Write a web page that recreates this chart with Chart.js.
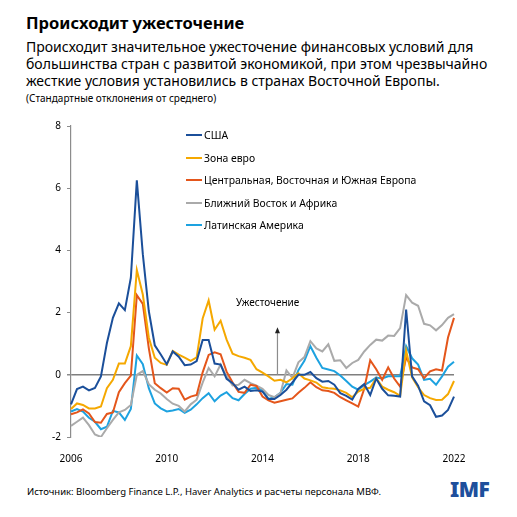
<!DOCTYPE html>
<html lang="ru">
<head>
<meta charset="utf-8">
<script src="https://cdn.jsdelivr.net/npm/chart.js@4.4.1/dist/chart.umd.min.js"></script>
<style>
  html, body { margin: 0; padding: 0; background: #fff; }
  body { width: 517px; height: 517px; position: relative; overflow: hidden; font-family: "Noto Sans", sans-serif; color: #000; }
  .title { position: absolute; left: 26px; top: 11px; font-size: 16.5px; font-weight: bold; }
  .subtitle { position: absolute; left: 26px; top: 38px; font-size: 14px; line-height: 17px; width: 490px; }
  .units { position: absolute; left: 26px; top: 91px; font-size: 10px; }
  #wrap { position: absolute; left: 0; top: 110px; width: 517px; height: 360px; }
  .legend { position: absolute; left: 186px; top: 124px; font-size: 10.4px; }
  .legend div { height: 22.5px; display: flex; align-items: center; }
  .legend .sw { display: inline-block; width: 16px; height: 2px; margin-right: 2px; }
  .note { position: absolute; left: 236px; top: 295px; font-size: 10px; }
  .source { position: absolute; left: 27px; top: 485px; font-size: 9.5px; }
  .logo { position: absolute; left: 450px; top: 475px; font-size: 21px; font-weight: 900; color: #1e4f9c; letter-spacing: -0.5px; }
</style>
</head>
<body>
<div class="title">Происходит ужесточение</div>
<div class="subtitle">Происходит значительное ужесточение финансовых условий для большинства стран с развитой экономикой, при этом чрезвычайно жесткие условия установились в странах Восточной Европы.</div>
<div class="units">(Стандартные отклонения от среднего)</div>
<div id="wrap"><canvas id="chart" width="517" height="360"></canvas></div>
<div class="legend" id="legend"></div>
<div class="note">Ужесточение</div>
<div class="source">Источник: Bloomberg Finance L.P., Haver Analytics и расчеты персонала МВФ.</div>
<div class="logo">IMF</div>
<script>
// кварталы 2006Q1 - 2022Q1
const quarters = [
  '2006Q1','2006Q2','2006Q3','2006Q4','2007Q1','2007Q2','2007Q3','2007Q4',
  '2008Q1','2008Q2','2008Q3','2008Q4','2009Q1','2009Q2','2009Q3','2009Q4',
  '2010Q1','2010Q2','2010Q3','2010Q4','2011Q1','2011Q2','2011Q3','2011Q4',
  '2012Q1','2012Q2','2012Q3','2012Q4','2013Q1','2013Q2','2013Q3','2013Q4',
  '2014Q1','2014Q2','2014Q3','2014Q4','2015Q1','2015Q2','2015Q3','2015Q4',
  '2016Q1','2016Q2','2016Q3','2016Q4','2017Q1','2017Q2','2017Q3','2017Q4',
  '2018Q1','2018Q2','2018Q3','2018Q4','2019Q1','2019Q2','2019Q3','2019Q4',
  '2020Q1','2020Q2','2020Q3','2020Q4','2021Q1','2021Q2','2021Q3','2021Q4',
  '2022Q1'
];
const tickYears = ['2006', '2010', '2014', '2018', '2022'];

const seriesNames = ['США', 'Зона евро', 'Центральная, Восточная и Южная Европа', 'Ближний Восток и Африка', 'Латинская Америка'];
const seriesColors = ['#1b4f9a', '#f5a800', '#e4561b', '#aaaaaa', '#1da2e0'];

const usa = [
  -0.95, -0.46, -0.38, -0.50, -0.42, -0.05, 1.02, 1.83, 2.30, 2.08, 3.12, 6.25, 3.88, 2.05, 0.95, 0.65,
  0.34, 0.75, 0.58, 0.31, 0.33, 0.44, 1.12, 1.12, 0.36, 0.33, -0.13, -0.27, -0.48, -0.38, -0.52, -0.50,
  -0.54, -0.78, -0.78, -0.65, -0.48, -0.24, 0.00, 0.00, 0.09, -0.11, -0.22, -0.20, -0.32, -0.59, -0.68, -0.80,
  -0.45, -0.30, -0.65, -0.12, -0.45, -0.66, -0.67, -0.70, 2.10, -0.05, -0.35, -0.85, -0.98, -1.35, -1.31, -1.13,
  -0.70
];
const euroArea = [
  -1.10, -0.92, -0.97, -1.08, -1.08, -1.02, -0.43, -0.16, 0.36, 0.36, 0.92, 3.37, 2.58, 1.20, 0.55, 0.38,
  0.32, 0.77, 0.65, 0.55, 0.45, 0.56, 1.81, 2.39, 1.45, 1.74, 1.13, 0.68, 0.60, 0.55, 0.48, 0.18,
  0.07, -0.05, -0.19, -0.16, -0.24, -0.11, 0.05, -0.12, -0.18, -0.25, -0.40, -0.43, -0.45, -0.50, -0.58, -0.72,
  -0.54, -0.45, -0.42, -0.11, -0.38, -0.48, -0.56, -0.68, 0.78, -0.08, -0.40, -0.65, -0.75, -0.81, -0.80, -0.62,
  -0.20
];
const cesee = [
  -1.27, -1.21, -1.11, -1.24, -1.52, -1.54, -1.26, -1.21, -0.56, -0.27, -0.03, 2.56, 2.28, 0.86, -0.27, -0.43,
  -0.57, -0.43, -0.45, -0.80, -0.70, -0.65, 0.08, 0.64, 0.72, 0.66, 0.10, -0.25, -0.55, -0.58, -0.32, -0.36,
  -0.70, -0.82, -0.90, -0.85, -0.80, -0.76, -0.58, -0.42, -0.24, -0.40, -0.50, -0.52, -0.58, -0.72, -0.82, -0.92,
  -1.02, -0.45, 0.47, 0.18, -0.16, 0.24, -0.12, -0.38, 0.56, 0.24, 0.18, -0.11, 0.11, 0.18, 0.14, 1.20,
  1.83
];
const mena = [
  -1.64, -1.51, -1.38, -1.62, -1.92, -2.00, -1.72, -1.45, -1.21, -1.13, -0.97, 0.00, 0.12, -0.30, -0.48, -0.60,
  -0.78, -0.93, -1.00, -1.18, -0.95, -0.80, -0.25, 0.22, -0.05, 0.33, -0.05, -0.34, -0.32, -0.16, -0.27, -0.35,
  -0.45, -0.65, -0.72, -0.59, 0.14, -0.10, 0.40, 0.57, 1.08, 0.85, 0.75, 0.98, 0.45, 0.47, 0.22, 0.38,
  0.48, 0.75, 0.96, 1.13, 1.10, 1.26, 1.25, 1.50, 2.56, 2.32, 2.22, 1.64, 1.59, 1.43, 1.60, 1.83,
  1.95
];
const latAm = [
  -1.18, -1.10, -1.18, -1.38, -1.51, -1.75, -1.67, -1.16, -1.21, -1.45, -1.10, 0.62, 0.34, -0.43, -0.92, -1.08,
  -1.18, -1.15, -1.10, -1.22, -1.12, -0.95, -0.75, -0.59, -0.85, -0.67, -0.56, -0.75, -0.82, -0.62, -0.45, -0.42,
  -0.50, -0.78, -0.72, -0.58, -0.30, -0.32, 0.15, 0.45, 0.92, 0.55, 0.22, 0.17, 0.12, -0.02, -0.20, -0.38,
  -0.48, -0.33, -0.22, -0.09, -0.12, -0.05, -0.05, -0.05, 0.92, 0.53, 0.33, -0.16, -0.13, -0.32, -0.05, 0.26,
  0.42
];
const seriesValues = [usa, euroArea, cesee, mena, latAm];

// стрелка "Ужесточение": позиция по оси X (квартал) и от/до по оси Y
const arrowQuarter = 34.5;
const arrowFrom = 0;
const arrowTo = 1.5;

// Легенда в HTML
const legendBox = document.getElementById('legend');
seriesNames.forEach((name, i) => {
  const row = document.createElement('div');
  row.innerHTML = '<span class="sw" style="background:' + seriesColors[i] + '"></span><span>' + name + '</span>';
  legendBox.appendChild(row);
});

const arrowPlugin = {
  id: 'tighteningArrow',
  afterDatasetsDraw(chart) {
    const { ctx, scales } = chart;
    const x = scales.x.getPixelForValue(arrowQuarter);
    const y0 = scales.y.getPixelForValue(arrowFrom);
    const y1 = scales.y.getPixelForValue(arrowTo);
    ctx.save();
    ctx.strokeStyle = '#8c8c8c';
    ctx.lineWidth = 1.2;
    ctx.beginPath();
    ctx.moveTo(x, y0);
    ctx.lineTo(x, y1 + 4);
    ctx.stroke();
    ctx.fillStyle = '#222';
    ctx.beginPath();
    ctx.moveTo(x, y1 - 1);
    ctx.lineTo(x - 2.5, y1 + 5);
    ctx.lineTo(x + 2.5, y1 + 5);
    ctx.closePath();
    ctx.fill();
    ctx.restore();
  }
};

new Chart(document.getElementById('chart'), {
  type: 'line',
  data: {
    labels: quarters,
    datasets: seriesNames.map((name, i) => ({
      label: name,
      data: seriesValues[i],
      borderColor: seriesColors[i],
      backgroundColor: seriesColors[i],
      borderWidth: 2,
      pointRadius: 0,
      tension: 0,
    })),
  },
  options: {
    responsive: false,
    animation: false,
    layout: { padding: { left: 0, right: 63, top: 16, bottom: 0 } },
    plugins: {
      legend: { display: false },
      tooltip: { enabled: false },
    },
    scales: {
      x: {
        offset: false,
        grid: { display: false },
        border: { display: false },
        ticks: {
          autoSkip: false,
          maxRotation: 0,
          padding: 8,
          color: '#000',
          font: { family: 'Noto Sans', size: 10 },
          callback: function (value, index) {
            const q = quarters[index];
            const year = q.slice(0, 4);
            return q.endsWith('Q1') && tickYears.includes(year) ? year : '';
          },
        },
        afterFit(scale) { scale.height = 33; },
      },
      y: {
        min: -2,
        max: 8,
        ticks: {
          stepSize: 2,
          padding: 6,
          color: '#000',
          font: { family: 'Noto Sans', size: 10 },
        },
        grid: {
          drawTicks: true,
          tickLength: 4,
          tickColor: '#8c8c8c',
          color: (c) => (c.tick && c.tick.value === 0 ? '#7f7f7f' : 'rgba(0,0,0,0)'),
          lineWidth: (c) => (c.tick && c.tick.value === 0 ? 1.5 : 1),
        },
        border: { display: true, color: '#8c8c8c', width: 1.2 },
        afterFit(scale) { scale.width = 71; },
      },
    },
  },
  plugins: [arrowPlugin],
});
</script>
</body>
</html>
